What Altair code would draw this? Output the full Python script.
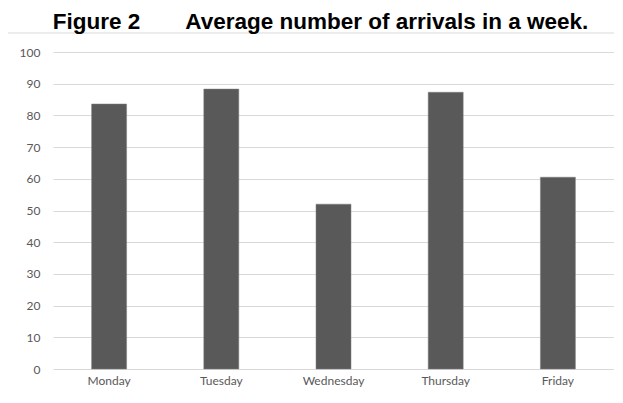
import altair as alt
import pandas as pd

days = ["Monday", "Tuesday", "Wednesday", "Thursday", "Friday"]
arrivals = [83.6, 88.3, 52.0, 87.3, 60.5]
y_ticks = [0, 10, 20, 30, 40, 50, 60, 70, 80, 90, 100]

df = pd.DataFrame({"day": days, "arrivals": arrivals})

frame = alt.Chart(pd.DataFrame({"a": [0]})).mark_rect(
    fillOpacity=0, stroke="#d9d9d9", strokeWidth=1, clip=False
).encode(
    x=alt.value(-45.5), x2=alt.value(620), y=alt.value(-19), y2=alt.value(400)
)

bars = alt.Chart(df).mark_bar(width=35, color="#595959", stroke="#7f7f7f", strokeWidth=0.5).encode(
    x=alt.X("day:N", sort=days, title=None,
            scale=alt.Scale(paddingInner=0, paddingOuter=0),
            axis=alt.Axis(labelAngle=0, ticks=False, domain=False, labelPadding=6,
                          labelColor="#595959", labelFont="Lato", labelFontSize=12)),
    y=alt.Y("arrivals:Q", title=None,
            scale=alt.Scale(domain=[0, 100], nice=False),
            axis=alt.Axis(values=y_ticks, ticks=False, domain=False, labelPadding=13,
                          grid=True, gridColor="#d9d9d9", gridWidth=1,
                          labelColor="#595959", labelFont="Lato", labelFontSize=12)),
)

chart = alt.layer(frame, bars).properties(
    width=561, height=317,
    autosize=alt.AutoSizeParams(type="none"),
    padding={"left": 45, "top": 44, "right": 0, "bottom": 26},
    title=alt.TitleParams(
        "Figure 2\u2003\u2003Average number of arrivals in a week.",
        font="Liberation Sans", fontSize=22.5, fontWeight="bold", color="black",
        anchor="middle", frame="group", offset=3, dx=-13, dy=4,
    ),
).configure_view(stroke=None)

chart.save("out.html", embed_options={"renderer": "svg", "actions": False})
